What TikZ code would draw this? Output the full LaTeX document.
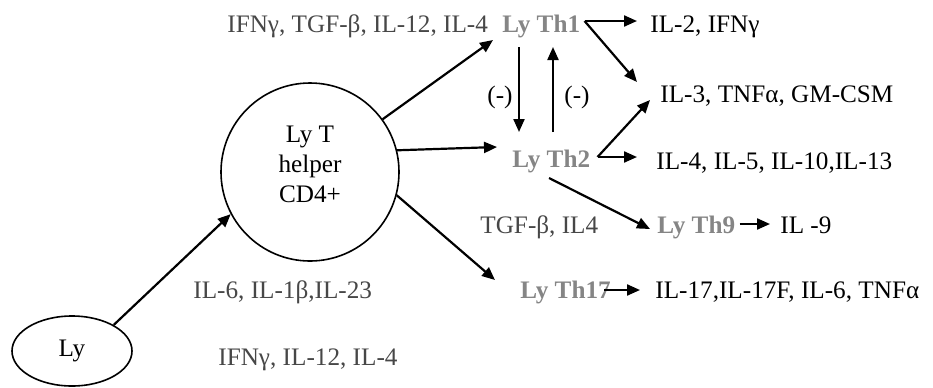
\documentclass[tikz,border=0pt]{standalone}
\usepackage{fontspec}
\setmainfont{Liberation Serif}
\usetikzlibrary{arrows.meta,calc,shapes.geometric}
\begin{document}
\begin{tikzpicture}[x=0.5pt,y=-0.5pt,
  every node/.style={font=\fontsize{12.6}{15}\selectfont, inner sep=0pt},
  txt/.style={anchor=base west},
  cyto/.style={txt, text=black!72},
  subset/.style={txt, text=black!48, font=\fontsize{12.6}{15}\selectfont\bfseries},
  prod/.style={txt, text=black},
  arr/.style={line width=1.1pt, -{Triangle[length=6.5pt,width=5.5pt]}},
  cell/.style={draw, line width=0.8pt}]
\useasboundingbox (0,0) rectangle (933,387);

% cells
\node[cell, ellipse, minimum width=60pt, minimum height=35pt] (ly) at (72,351) {Ly\hspace{18pt}};
\node[cell, circle, minimum size=89pt, align=center] (cd4) at (310,172)
  {Ly T\\helper\\CD4+\rule[-7.5pt]{0pt}{0pt}};

% labels
\node[cyto] (inTh1) at (227,32) {IFNγ, TGF-β, IL-12, IL-4};
\node[subset] (th1) at (502,32) {Ly Th1};
\node[prod] (p1) at (650,32) {IL-2, IFNγ};
\node[prod] (p13) at (660,102) {IL-3, TNFα, GM-CSM};
\node[prod] (neg1) at (487,103) {(-)};
\node[prod] (neg2) at (564,103) {(-)};
\node[subset] (th2) at (512,167) {Ly Th2};
\node[prod] (p2) at (656,169) {IL-4, IL-5, IL-10,IL-13};
\node[cyto] (inTh9) at (480,233) {TGF-β, IL4};
\node[subset] (th9) at (657,233) {Ly Th9};
\node[prod] (p9) at (780,233) {IL -9};
\node[cyto] (inTh17) at (193,298) {IL-6, IL-1β,IL-23};
\node[subset] (th17) at (520,298) {Ly Th17};
\node[prod] (p17) at (655,298) {IL-17,IL-17F, IL-6, TNFα};
\node[cyto] (inTh1b) at (218,365) {IFNγ, IL-12, IL-4};

% differentiation
\draw[arr] (ly.32) -- (cd4.208);
\draw[arr] (cd4.36) -- ($(th1.base west)+(-9,8)$);
\draw[arr] (cd4.14) -- ($(th2.base west)+(-15,-20)$);
\draw[arr] (cd4.-15) -- ($(th17.base west)+(-25,-18)$);
\draw[arr] ($(th2.base west)+(37,11)$) -- ($(th9.base west)+(-7,-4)$);

% mutual inhibition Th1 / Th2
\draw[arr] ($(th1.base west)+(17,15)$) -- ($(th2.base west)+(7,-35)$);
\draw[arr] ($(th2.base west)+(41,-35)$) -- ($(th1.base west)+(51,15)$);

% secreted cytokines
\coordinate (th1out) at ($(th1.base east)+(4,-11)$);
\draw[arr] (th1out) -- ($(p1.base west)+(-13,-11)$);
\draw[arr] (th1out) -- ($(p13.base west)+(-23,-20)$);
\coordinate (th2out) at ($(th2.base east)+(7,-10)$);
\draw[arr] (th2out) -- ($(p2.base west)+(-19,-12)$);
\draw[arr] (th2out) -- ($(p13.base west)+(-10,-2)$);
\draw[arr] ($(th9.base east)+(4,-9)$) -- ($(p9.base west)+(-10,-9)$);
\draw[arr] ($(th17.base east)+(-7,-8)$) -- ($(p17.base west)+(-15,-8)$);
\end{tikzpicture}
\end{document}
